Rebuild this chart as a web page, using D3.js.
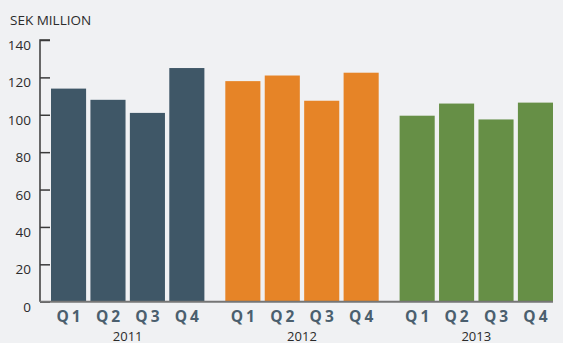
<!DOCTYPE html>
<html>
<head>
<meta charset="utf-8">
<script src="https://cdn.jsdelivr.net/npm/d3@7"></script>
<style>
  html, body { margin: 0; padding: 0; background: #f0f1f3; }
  text { font-family: "Open Sans", sans-serif; }
</style>
</head>
<body>
<div class="canvas"></div>
<script>
// data
const years = ["2011", "2012", "2013"]
const quarters = ["Q1", "Q2", "Q3", "Q4"]
const values2011 = [114, 108, 101, 125]
const values2012 = [118, 121, 107.5, 122.5]
const values2013 = [99.5, 106, 97.5, 106.5]
const yTicks = [0, 20, 40, 60, 80, 100, 120, 140]
const colors = ["#3f5767", "#e68427", "#668f46"]

const series = [values2011, values2012, values2013]

const dims = { width: 563, height: 343 }

const svg = d3.select(".canvas")
    .append("svg")
    .attr("width", dims.width)
    .attr("height", dims.height)

svg.append("rect")
    .attr("width", dims.width)
    .attr("height", dims.height)
    .attr("fill", "#f0f1f3")

/**
 * Scales
 */
const y = d3.scaleLinear()
    .domain([0, 140])
    .range([301.7, 40])

const x0 = d3.scaleBand()
    .domain(years)
    .range([51, 553])
    .paddingInner(0.12)

const x1 = d3.scaleBand()
    .domain(quarters)
    .range([0, x0.bandwidth()])
    .paddingInner(0.11)

/**
 * Bars
 */
const groups = svg.selectAll("g.year")
    .data(years)
    .enter()
    .append("g")
    .attr("class", "year")
    .attr("transform", d => `translate(${x0(d)},0)`)

groups.selectAll("rect")
    .data((d, i) => series[i].map((v, j) => ({ q: quarters[j], v, i })))
    .enter()
    .append("rect")
    .attr("x", d => x1(d.q))
    .attr("y", d => y(d.v))
    .attr("width", x1.bandwidth())
    .attr("height", d => y(0) - y(d.v))
    .attr("fill", d => colors[d.i])

// quarter labels
groups.selectAll("text.q")
    .data(quarters)
    .enter()
    .append("text")
    .attr("class", "q")
    .attr("x", d => x1(d) + x1.bandwidth() / 2 + 1.5)
    .attr("y", 322)
    .attr("text-anchor", "middle")
    .attr("font-size", 15.5)
    .attr("font-weight", "bold")
    .attr("letter-spacing", 3)
    .attr("fill", "#4b5f6e")
    .text(d => d)

// year labels
groups.append("text")
    .attr("x", x0.bandwidth() / 2)
    .attr("y", 340.5)
    .attr("text-anchor", "middle")
    .attr("font-size", 13)
    .attr("fill", "#2b2b2b")
    .text(d => d)

/**
 * Axes
 */
const yAxis = d3.axisRight(y)
    .tickValues(yTicks)
    .tickSize(10)
    .tickFormat("")

const axisG = svg.append("g")
    .attr("transform", "translate(40,0)")
    .call(yAxis)

axisG.select(".domain")
    .attr("d", `M10,${y(140)}H0V${y(0)}`)
    .attr("stroke", "#3a3a3a")
    .attr("stroke-width", 1.5)
axisG.selectAll(".tick line")
    .attr("stroke", "#3a3a3a")
    .attr("stroke-width", 1.5)

svg.selectAll("text.ylab")
    .data(yTicks)
    .enter()
    .append("text")
    .attr("class", "ylab")
    .attr("x", 31)
    .attr("y", d => y(d) + 10)
    .attr("text-anchor", "end")
    .attr("font-size", 13.5)
    .attr("fill", "#2b2b2b")
    .text(d => d)

// baseline
svg.append("line")
    .attr("x1", 40)
    .attr("x2", x0.range()[1])
    .attr("y1", y(0))
    .attr("y2", y(0))
    .attr("stroke", "#767676")
    .attr("stroke-width", 2)

svg.append("text")
    .attr("x", 10)
    .attr("y", 24.5)
    .attr("font-size", 13.5)
    .attr("fill", "#2b2b2b")
    .text("SEK MILLION")
</script>
</body>
</html>
